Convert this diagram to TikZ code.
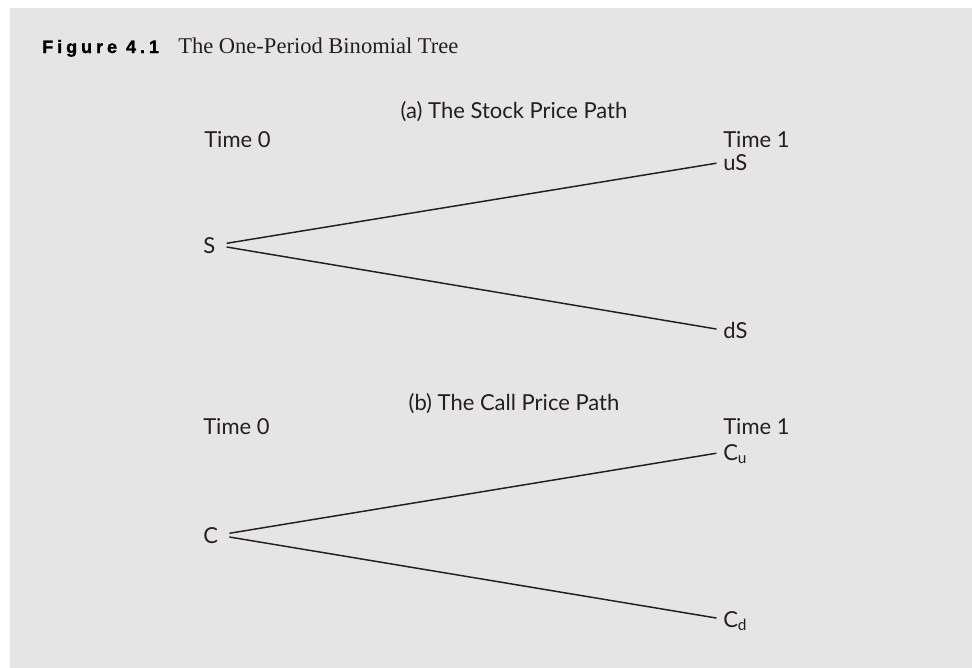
\documentclass[tikz,border=0pt]{standalone}
\usepackage{fontspec}
\usepackage{xcolor}
\usepackage{tikz}
\usetikzlibrary{positioning}
\newfontfamily\pathfont{Lato}
\newfontfamily\captionfont{Liberation Serif}
\newfontfamily\figfont[LetterSpace=22, FakeBold=1.5]{Liberation Sans Bold}
\definecolor{panelgray}{RGB}{229,229,229}
\definecolor{inkgray}{RGB}{35,31,32}

\begin{document}
\begin{tikzpicture}[
    x=0.75pt, y=-0.75pt,
    pathlabel/.style={inner sep=0pt, anchor=base west, text=inkgray, font=\pathfont\fontsize{16.5}{19}\selectfont},
    heading/.style={pathlabel, anchor=base},
    leaf/.style={pathlabel, text height=11.8pt, text depth=0pt},
    branch/.style={draw=inkgray, line width=1.1pt, shorten <=8.5pt, shorten >=5pt}
]

\useasboundingbox (0,0) rectangle (972,668);
\fill [panelgray] (10,8) rectangle (972,668);

% caption line
\node (figlabel) [anchor=base west, inner sep=0pt, font=\figfont\fontsize{13.5}{16}\selectfont] at (42,53) {Figure 4.1};
\node (caption) [anchor=base west, inner sep=0pt, text=inkgray, font=\captionfont\fontsize{16.9}{19}\selectfont] at (178,53) {The One-Period Binomial Tree};

% (a) stock tree
\node (stockhead) [heading] at (514,118) {(a) The Stock Price Path};
\node (stocktime0) [pathlabel] at (204,147) {Time 0};
\node (stocktime1) [pathlabel] at (723,147) {Time 1};
\node (S) [leaf] at (203,253) {S};
\node (uS) [leaf] at (723,170) {uS};
\node (dS) [leaf] at (723,338) {dS};

\draw [branch] (S.east) -- (uS.west);
\draw [branch] (S.east) -- (dS.west);

% (b) call tree
\node (callhead) [heading] at (514,410) {(b) The Call Price Path};
\node (calltime0) [pathlabel] at (203,434) {Time 0};
\node (calltime1) [pathlabel] at (723,434) {Time 1};
\node (C) [leaf] at (203,543) {C};
\node (Cu) [leaf] at (723,460) {C\textsubscript{u}};
\node (Cd) [leaf] at (723,627) {C\textsubscript{d}};

\draw [branch] (C.east) -- (Cu.west);
\draw [branch] (C.east) -- (Cd.west);

\end{tikzpicture}
\end{document}
